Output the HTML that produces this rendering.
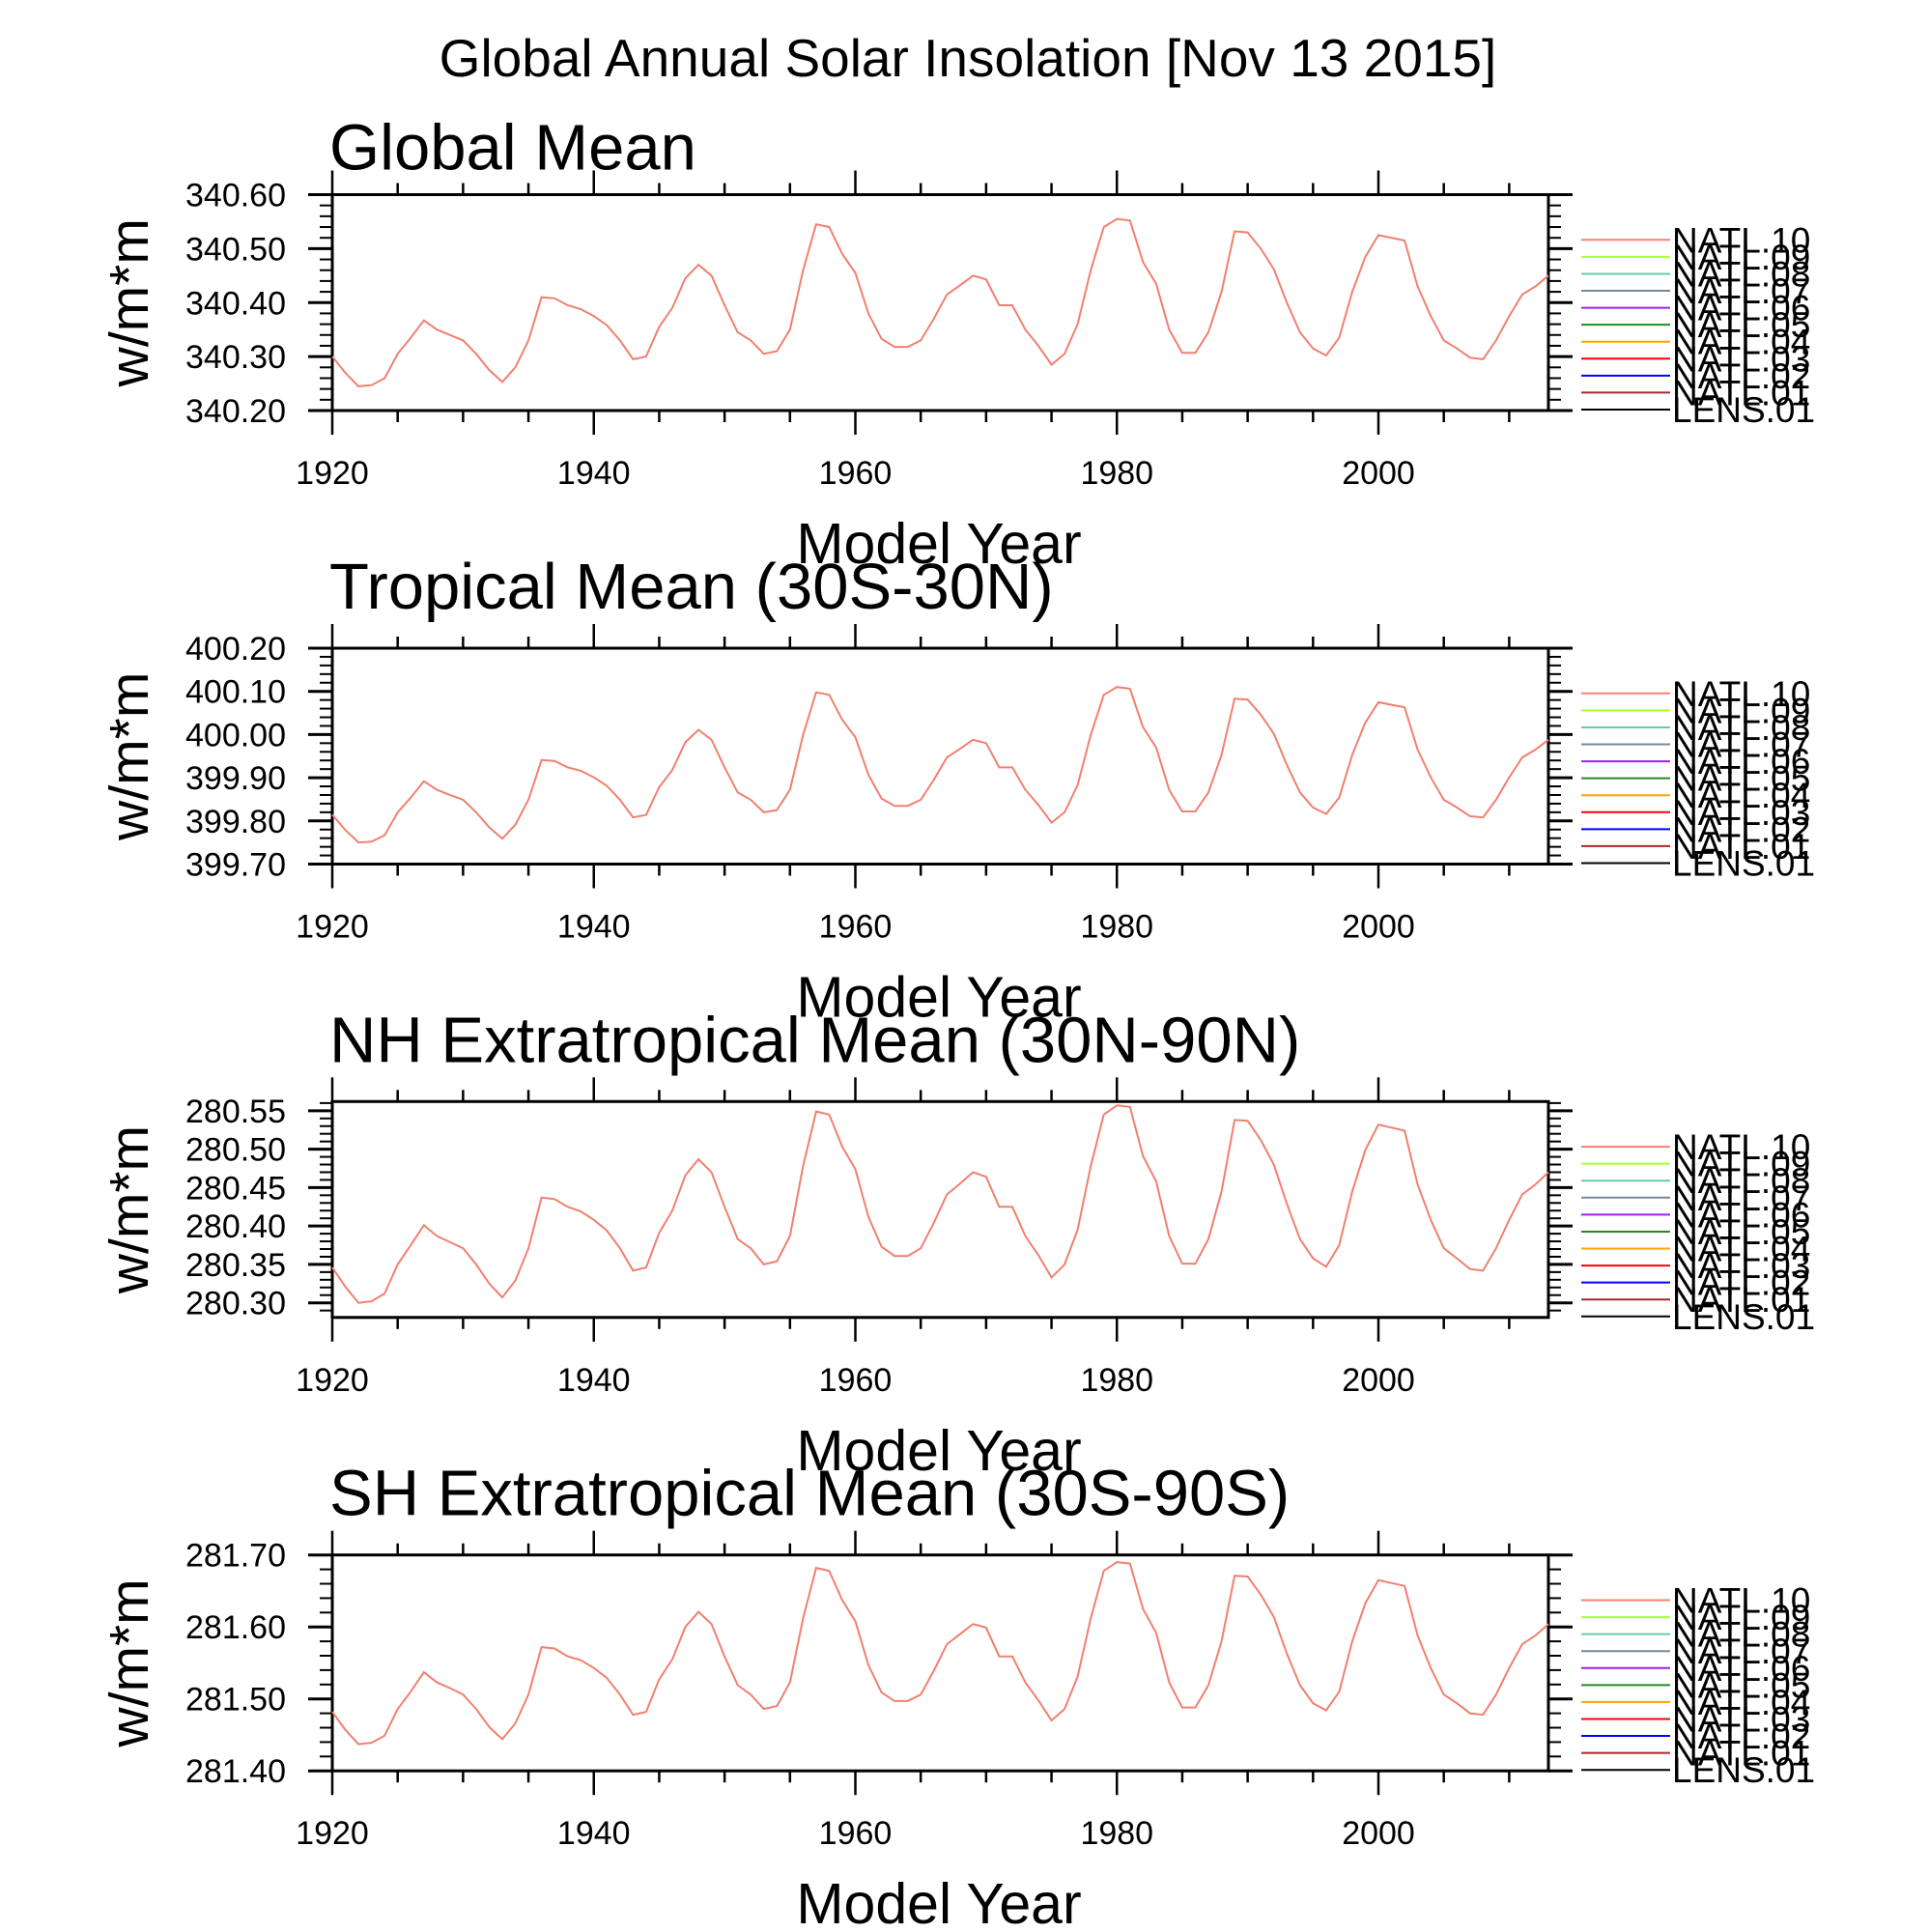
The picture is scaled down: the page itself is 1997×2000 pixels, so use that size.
<!DOCTYPE html>
<html><head><meta charset="utf-8"><style>
html,body{margin:0;padding:0;background:#fff;}
svg{display:block;font-family:"Liberation Sans",sans-serif;}
</style></head><body>
<svg id="chart" width="1997" height="2000" viewBox="0 0 1997 2000">
<text x="1002" y="79" font-size="55" text-anchor="middle">Global Annual Solar Insolation [Nov 13 2015]</text>
</svg>
<script>
const yearStart = 1920;
const yearEnd = 2013;
const globalValues = [340.300,340.270,340.245,340.247,340.260,340.305,340.335,340.367,340.350,340.340,340.330,340.305,340.275,340.253,340.280,340.330,340.410,340.408,340.395,340.388,340.375,340.358,340.330,340.295,340.300,340.355,340.390,340.445,340.470,340.450,340.395,340.345,340.330,340.305,340.310,340.350,340.460,340.545,340.540,340.490,340.455,340.380,340.333,340.318,340.318,340.330,340.370,340.415,340.432,340.450,340.443,340.395,340.395,340.350,340.320,340.285,340.305,340.360,340.460,340.540,340.555,340.552,340.475,340.435,340.350,340.307,340.307,340.345,340.420,340.532,340.530,340.500,340.462,340.400,340.345,340.315,340.302,340.335,340.420,340.485,340.525,340.520,340.515,340.430,340.375,340.330,340.315,340.298,340.295,340.330,340.375,340.415,340.430,340.450];
const tropicalValues = [399.814,399.779,399.750,399.752,399.767,399.820,399.854,399.892,399.872,399.860,399.849,399.820,399.785,399.759,399.791,399.849,399.941,399.939,399.924,399.916,399.901,399.881,399.849,399.808,399.814,399.878,399.918,399.982,400.011,399.988,399.924,399.866,399.849,399.820,399.825,399.872,399.999,400.098,400.092,400.034,399.994,399.907,399.852,399.835,399.835,399.849,399.895,399.947,399.967,399.988,399.980,399.924,399.924,399.872,399.837,399.796,399.820,399.883,399.999,400.092,400.110,400.106,400.017,399.970,399.872,399.822,399.822,399.866,399.953,400.083,400.081,400.046,400.002,399.930,399.866,399.831,399.816,399.854,399.953,400.028,400.075,400.069,400.063,399.965,399.901,399.849,399.831,399.811,399.808,399.849,399.901,399.947,399.965,399.988];
const nhValues = [280.346,280.321,280.300,280.302,280.312,280.350,280.375,280.401,280.387,280.379,280.371,280.350,280.325,280.307,280.329,280.371,280.437,280.435,280.425,280.419,280.408,280.394,280.371,280.342,280.346,280.391,280.420,280.466,280.487,280.470,280.425,280.383,280.371,280.350,280.354,280.387,280.478,280.549,280.545,280.503,280.474,280.412,280.373,280.361,280.361,280.371,280.404,280.441,280.455,280.470,280.464,280.425,280.425,280.387,280.362,280.333,280.350,280.395,280.478,280.545,280.557,280.555,280.491,280.458,280.387,280.351,280.351,280.383,280.445,280.538,280.537,280.512,280.480,280.429,280.383,280.358,280.347,280.375,280.445,280.499,280.532,280.528,280.524,280.454,280.408,280.371,280.358,280.344,280.342,280.371,280.408,280.441,280.454,280.470];
const shValues = [281.482,281.457,281.437,281.439,281.449,281.486,281.510,281.537,281.523,281.515,281.506,281.486,281.461,281.444,281.466,281.506,281.572,281.570,281.559,281.554,281.543,281.529,281.506,281.478,281.482,281.527,281.555,281.600,281.621,281.604,281.559,281.519,281.506,281.486,281.490,281.523,281.612,281.682,281.678,281.637,281.608,281.547,281.509,281.497,281.497,281.506,281.539,281.576,281.590,281.604,281.599,281.559,281.559,281.523,281.498,281.470,281.486,281.531,281.612,281.678,281.690,281.688,281.625,281.592,281.523,281.488,281.488,281.519,281.580,281.671,281.670,281.645,281.614,281.563,281.519,281.494,281.484,281.510,281.580,281.633,281.665,281.661,281.657,281.588,281.543,281.506,281.494,281.480,281.478,281.506,281.543,281.576,281.588,281.604];
const panelTitles = ["Global Mean","Tropical Mean (30S-30N)","NH Extratropical Mean (30N-90N)","SH Extratropical Mean (30S-90S)"];
const yMins = [340.20, 399.70, 280.281, 281.40];
const yMaxs = [340.60, 400.20, 280.562, 281.70];
const yMajorTicks = [[340.20,340.30,340.40,340.50,340.60],[399.70,399.80,399.90,400.00,400.10,400.20],[280.30,280.35,280.40,280.45,280.50,280.55],[281.40,281.50,281.60,281.70]];
const yMinorStep = [0.02, 0.02, 0.01, 0.02];
const xTickYears = [1920,1940,1960,1980,2000];
const legendLabels = ["NATL.10","NATL.09","NATL.08","NATL.07","NATL.06","NATL.05","NATL.04","NATL.03","NATL.02","NATL.01","LENS.01"];
const legendColors = ["#fa8072","#adff2f","#66cdaa","#778899","#a020f0","#228b22","#ffa500","#ff0000","#0000ff","#a52a2a","#000000"];
const seriesList = [globalValues, tropicalValues, nhValues, shValues];

const NS = "http://www.w3.org/2000/svg";
const svg = document.getElementById("chart");
const L = 344, R = 1603, H = 223.5;
const tops = [201.5, 671, 1140.3, 1609.7];
function mk(tag, attrs, parent){ const e=document.createElementNS(NS,tag); for(const k in attrs) e.setAttribute(k,attrs[k]); (parent||svg).appendChild(e); return e; }
function xScale(yr){ return L + (yr - yearStart) / (yearEnd - yearStart) * (R - L); }

for(let p=0;p<4;p++){
  const T = tops[p], B = T + H;
  const yScale = v => B - (v - yMins[p]) / (yMaxs[p] - yMins[p]) * H;
  const g = mk("g", {});
  
  
  const title = mk("text", {x:341, y:(p===0 ? T-26 : T-41), "font-size":67}, g);
  title.textContent = panelTitles[p];
  
  
  for(let yr=1920; yr<=2010; yr+=5){
    const x = xScale(yr), major = (yr % 20 === 0);
    const len = major ? 25 : 12;
    const t1 = mk("line",{x1:x,x2:x,y1:T,y2:T-len,stroke:"#000","stroke-width":2.5},g);
    
    
    const t2 = mk("line",{x1:x,x2:x,y1:B,y2:B+len,stroke:"#000","stroke-width":2.5},g);
    
    
  }
  for(const yr of xTickYears){
    const t = mk("text",{x:xScale(yr), y:B+76, "font-size":34, "text-anchor":"middle"},g);
    t.textContent = yr;
    
    
  }
  const step = yMinorStep[p];
  for(let v = Math.ceil(yMins[p]/step - 1e-6)*step; v <= yMaxs[p] + 1e-9; v += step){
    const y = yScale(v);
    const m1 = mk("line",{x1:L,x2:L-13,y1:y,y2:y,stroke:"#000","stroke-width":2},g);
    
    
    const m2 = mk("line",{x1:R,x2:R+13,y1:y,y2:y,stroke:"#000","stroke-width":2},g);
    
    
  }
  for(const v of yMajorTicks[p]){
    const y = yScale(v);
    const a = mk("line",{x1:L,x2:L-25,y1:y,y2:y,stroke:"#000","stroke-width":3},g);
    
    
    const b = mk("line",{x1:R,x2:R+25,y1:y,y2:y,stroke:"#000","stroke-width":3},g);
    
    
    const t = mk("text",{x:296, y:y+12, "font-size":34, "text-anchor":"end"},g);
    t.textContent = v.toFixed(2);
    
    
  }
  const fr = mk("rect",{x:L,y:T,width:R-L,height:H,fill:"none",stroke:"#000","stroke-width":3},g);
  
  
  const vals = seriesList[p];
  const pts = vals.map((v,i)=> xScale(yearStart+i).toFixed(1)+","+yScale(v).toFixed(1)).join(" ");
  const line = mk("polyline",{points:pts,fill:"none",stroke:"#f08070","stroke-width":2},g);
  
  
  const yc = (T+B)/2;
  const yt = mk("text",{x:0,y:0,"font-size":57,"text-anchor":"middle",transform:"translate(153,"+yc+") rotate(-90)"},g);
  yt.textContent = "w/m*m";
  
  
  const xt = mk("text",{x:972,y:B+158,"font-size":59,"text-anchor":"middle"},g);
  xt.textContent = "Model Year";
  
  
  for(let k=0;k<legendLabels.length;k++){
    const y = T + 46.8 + k*17.57;
    const ll = mk("line",{x1:1637,x2:1729,y1:y,y2:y,stroke:legendColors[k],"stroke-width":2},g);
    
    
    const lt = mk("text",{x:1731,y:y+13,"font-size":37},g);
    lt.textContent = legendLabels[k];
    
    
  }
}
</script>
</body></html>
